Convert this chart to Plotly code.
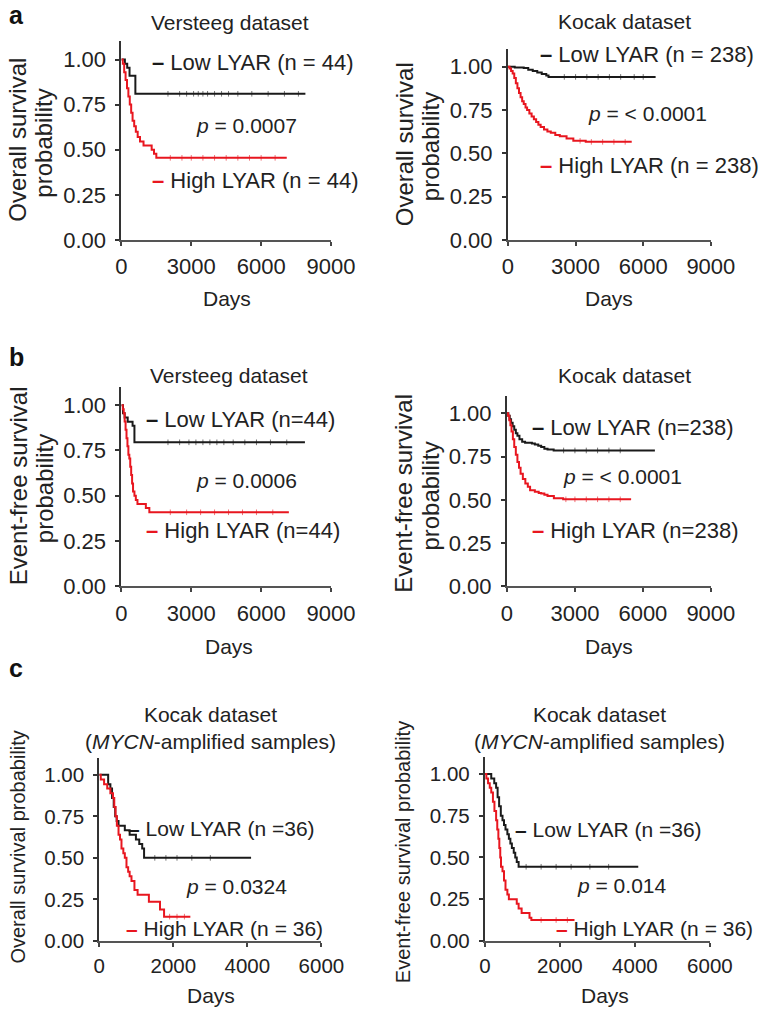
import plotly.graph_objects as go
import numpy as np

W, H = 781, 1022
FONT = "Arial, Liberation Sans, sans-serif"
RED = "#e8161f"
BLK = "#1a1a1a"

# ---------------- data (days, survival probability) ----------------
# a: Versteeg overall survival
a1_low_t = [0, 150, 250, 350, 600, 7900]
a1_low_s = [1.0, 0.977, 0.955, 0.91, 0.81, 0.81]
a1_high_t = [0, 60, 120, 180, 240, 300, 360, 420, 480, 550, 620, 700, 800, 950, 1100, 1300, 1400, 1500, 7100]
a1_high_s = [1.0, 0.977, 0.93, 0.886, 0.84, 0.795, 0.75, 0.705, 0.66, 0.63, 0.6, 0.57, 0.545, 0.523, 0.523, 0.5, 0.477, 0.455, 0.455]
# a: Kocak overall survival
a2_low_t = [0, 300, 700, 900, 1100, 1300, 1500, 1700, 1800, 6550]
a2_low_s = [1.0, 0.996, 0.992, 0.983, 0.975, 0.966, 0.958, 0.949, 0.941, 0.941]
a2_high_t = [0, 70, 140, 210, 280, 350, 420, 490, 560, 630, 700, 780, 850, 950, 1050, 1150, 1250, 1350, 1450, 1600, 1750, 1900, 2100, 2300, 2600, 2900, 3450, 5490]
a2_high_s = [1.0, 0.99, 0.975, 0.96, 0.935, 0.905, 0.875, 0.848, 0.823, 0.8, 0.785, 0.765, 0.75, 0.73, 0.713, 0.697, 0.68, 0.665, 0.652, 0.637, 0.626, 0.618, 0.606, 0.598, 0.585, 0.572, 0.566, 0.566]
# b: Versteeg event-free survival
b1_low_t = [0, 70, 140, 270, 480, 560, 7880]
b1_low_s = [1.0, 0.955, 0.932, 0.909, 0.886, 0.795, 0.795]
b1_high_t = [0, 60, 100, 140, 180, 220, 260, 300, 340, 380, 420, 460, 500, 560, 620, 690, 1050, 1200, 7190]
b1_high_s = [1.0, 0.977, 0.955, 0.91, 0.864, 0.818, 0.773, 0.727, 0.705, 0.66, 0.614, 0.568, 0.523, 0.5, 0.477, 0.455, 0.432, 0.409, 0.409]
# b: Kocak event-free survival
b2_low_t = [0, 60, 120, 180, 250, 320, 390, 460, 550, 670, 800, 950, 1100, 1230, 1380, 1510, 1650, 1790, 2060, 6530]
b2_low_s = [1.0, 0.985, 0.965, 0.945, 0.925, 0.905, 0.885, 0.87, 0.85, 0.835, 0.83, 0.83, 0.825, 0.82, 0.812, 0.805, 0.795, 0.79, 0.785, 0.785]
b2_high_t = [0, 50, 100, 150, 200, 260, 320, 390, 460, 530, 600, 700, 810, 920, 1020, 1230, 1400, 1510, 1650, 1790, 2070, 2480, 5480]
b2_high_s = [1.0, 0.985, 0.96, 0.93, 0.895, 0.85, 0.805, 0.76, 0.718, 0.685, 0.651, 0.62, 0.594, 0.575, 0.556, 0.547, 0.54, 0.537, 0.53, 0.522, 0.509, 0.503, 0.503]
# c: Kocak MYCN-amplified overall survival
c1_low_t = [0, 240, 300, 345, 390, 430, 470, 520, 690, 820, 990, 1080, 1160, 1210, 4100]
c1_low_s = [1.0, 0.944, 0.917, 0.861, 0.806, 0.75, 0.722, 0.694, 0.667, 0.639, 0.611, 0.583, 0.556, 0.5, 0.5]
c1_high_t = [0, 40, 130, 215, 300, 370, 405, 440, 475, 520, 560, 600, 650, 690, 735, 780, 820, 870, 950, 1035, 1340, 1640, 1750, 2460]
c1_high_s = [1.0, 0.972, 0.944, 0.917, 0.889, 0.861, 0.806, 0.75, 0.694, 0.639, 0.611, 0.556, 0.528, 0.5, 0.444, 0.417, 0.389, 0.361, 0.306, 0.278, 0.236, 0.189, 0.146, 0.146]
# c: Kocak MYCN-amplified event-free survival
c2_low_t = [0, 170, 250, 300, 340, 380, 425, 470, 510, 550, 600, 640, 680, 720, 770, 810, 850, 900, 4090]
c2_low_s = [1.0, 0.972, 0.944, 0.917, 0.861, 0.806, 0.75, 0.722, 0.694, 0.667, 0.639, 0.611, 0.583, 0.556, 0.528, 0.5, 0.472, 0.444, 0.444]
c2_high_t = [0, 40, 85, 130, 170, 215, 255, 300, 330, 360, 385, 410, 430, 470, 510, 550, 600, 640, 850, 900, 980, 1190, 1240, 2390]
c2_high_s = [1.0, 0.972, 0.944, 0.917, 0.889, 0.833, 0.778, 0.722, 0.667, 0.611, 0.556, 0.5, 0.444, 0.417, 0.361, 0.306, 0.278, 0.25, 0.222, 0.194, 0.167, 0.139, 0.125, 0.125]

# censor marks (days)
a1_low_c = [2000, 2500, 2800, 3100, 3300, 3500, 3700, 4000, 4300, 4600, 5000, 5600, 6300, 7000, 7600]
a1_high_c = [2100, 2600, 3000, 3500, 4000, 4500, 5000, 5500, 6000, 6600]
a2_low_c = [2500, 3000, 3500, 4000, 4500, 5000, 5600, 6000]
a2_high_c = [3200, 3700, 4200, 4700, 5200]
b1_low_c = [2000, 2500, 2900, 3200, 3500, 3800, 4100, 4400, 4800, 5300, 5800, 6400, 7100]
b1_high_c = [2100, 2800, 3400, 4000, 4600, 5200, 5800, 6500]
b2_low_c = [2500, 3000, 3500, 4000, 4500, 5000]
b2_high_c = [2600, 3000, 3500, 4000, 4500, 5000]
c1_low_c = [1500, 1800, 2100, 2500, 3000]
c1_high_c = [1900, 2100, 2300]
c2_low_c = [1100, 1500, 1900, 2300, 2800, 3300]
c2_high_c = [1500, 1900, 2200]

titles = ["Versteeg dataset", "Kocak dataset", "Versteeg dataset", "Kocak dataset",
          "Kocak dataset<br>(<i>MYCN</i>-amplified samples)", "Kocak dataset<br>(<i>MYCN</i>-amplified samples)"]
ylabel_lines = [["Overall survival", "probability"], ["Overall survival", "probability"],
                ["Event-free survival", "probability"], ["Event-free survival", "probability"],
                ["Overall survival probability"], ["Event-free survival probability"]]
low_labels = ["Low LYAR (n = 44)", "Low LYAR (n = 238)", "Low LYAR (n=44)", "Low LYAR (n=238)",
              "Low LYAR (n =36)", "Low LYAR (n =36)"]
high_labels = ["High LYAR (n = 44)", "High LYAR (n = 238)", "High LYAR (n=44)", "High LYAR (n=238)",
               "High LYAR (n = 36)", "High LYAR (n = 36)"]
pvals = ["0.0007", "< 0.0001", "0.0006", "< 0.0001", "0.0324", "0.014"]
xticks_ab = [0, 3000, 6000, 9000]
xticks_c = [0, 2000, 4000, 6000]
yticks = [0, 0.25, 0.5, 0.75, 1.0]
yticktext = ["0.00", "0.25", "0.50", "0.75", "1.00"]

curves = [
    (a1_low_t, a1_low_s, a1_low_c, a1_high_t, a1_high_s, a1_high_c),
    (a2_low_t, a2_low_s, a2_low_c, a2_high_t, a2_high_s, a2_high_c),
    (b1_low_t, b1_low_s, b1_low_c, b1_high_t, b1_high_s, b1_high_c),
    (b2_low_t, b2_low_s, b2_low_c, b2_high_t, b2_high_s, b2_high_c),
    (c1_low_t, c1_low_s, c1_low_c, c1_high_t, c1_high_s, c1_high_c),
    (c2_low_t, c2_low_s, c2_low_c, c2_high_t, c2_high_s, c2_high_c),
]

# ---------------- layout geometry (pixels) ----------------
# x0, x1, ytop(1.1), ybottom(0)
boxes = [(120, 338, 42, 243), (522, 733, 50, 243),
         (120, 338, 392, 594), (521, 733, 401, 594),
         (97, 328, 768, 953), (498, 732, 767, 953)]
title_pos = [(233, 23), (643, 22), (232, 380), (643, 380), (213, 737), (617, 737)]
days_pos = [(230, 302), (627, 302), (232, 655), (627, 655), (213, 1008), (623, 1008)]
ylab_x = [[12, 39], [414, 441], [13, 40], [414, 442], [13], [413]]
ylab_y = [[142, 145], [146, 149], [492, 495], [500, 503], [858], [863]]
ylab_size = [24, 24, 24, 24, 20, 20]
tick_size = [22, 22, 22, 22, 20.5, 20.5]
low_pos = [(150, 63), (553, 55), (143, 425), (545, 433), (125, 839), (527, 840)]
p_pos = [(195, 127), (603, 115), (195, 487), (577, 483), (185, 898), (592, 897)]
high_pos = [(150, 183), (553, 168), (143, 537), (545, 537), (123, 940), (570, 940)]
panel_letters = [("a", 1, 15), ("b", 1, 362), ("c", 1, 677)]


def px(x):
    return x / W


def py(y):
    return 1 - y / H


def step_at(t, s, x):
    idx = np.searchsorted(np.array(t), x, side="right") - 1
    return [s[i] for i in idx]


fig = go.Figure()
annotations = []
layout_axes = {}


def ann(text, pos, size=21, xanchor="left", **kw):
    annotations.append(dict(text=text, x=px(pos[0]), y=py(pos[1]), xref="paper", yref="paper",
                            xanchor=xanchor, yanchor="middle", showarrow=False,
                            font=dict(family=FONT, size=size, color="#222"), **kw))


for i, (box, cv) in enumerate(zip(boxes, curves)):
    n = i + 1
    xa = "x" if n == 1 else f"x{n}"
    ya = "y" if n == 1 else f"y{n}"
    lt, ls, lc, ht, hs, hc = cv
    for t, s, c, col in [(lt, ls, lc, BLK), (ht, hs, hc, RED)]:
        fig.add_trace(go.Scatter(x=t, y=s, mode="lines", line=dict(color=col, width=2, shape="hv"),
                                 xaxis=xa, yaxis=ya, showlegend=False, hoverinfo="skip"))
        fig.add_trace(go.Scatter(x=c, y=step_at(t, s, c), mode="markers",
                                 marker=dict(symbol="line-ns", size=4, line=dict(color=col, width=1)),
                                 opacity=0.6, xaxis=xa, yaxis=ya, showlegend=False, hoverinfo="skip"))
    x0, x1, yt, yb = box
    xticks = xticks_c if i >= 4 else xticks_ab
    kx = "xaxis" if n == 1 else f"xaxis{n}"
    ky = "yaxis" if n == 1 else f"yaxis{n}"
    layout_axes[kx] = dict(domain=[px(x0), px(x1)], range=[0, xticks[-1]], tickvals=xticks,
                           anchor=ya, showline=True, linecolor="#555", linewidth=2,
                           ticks="outside", ticklen=4, tickwidth=2, tickcolor="#444",
                           showgrid=False, zeroline=False, ticklabelstandoff=2,
                           tickfont=dict(family=FONT, size=tick_size[i], color="#222"))
    layout_axes[ky] = dict(domain=[py(yb), py(yt)], range=[0, 1.1], tickvals=yticks, ticktext=yticktext,
                           anchor=xa, showline=True, linecolor="#333", linewidth=2,
                           ticks="outside", ticklen=4, tickwidth=2, tickcolor="#333",
                           showgrid=False, zeroline=False, ticklabelstandoff=5,
                           tickfont=dict(family=FONT, size=tick_size[i], color="#222"))

    ann(titles[i], title_pos[i], xanchor="center")
    ann("Days", days_pos[i], xanchor="center")
    for line, lx, ly in zip(ylabel_lines[i], ylab_x[i], ylab_y[i]):
        ann(line, (lx, ly), size=ylab_size[i], xanchor="center", textangle=-90)
    ann(f"<span style='color:{BLK}'><b>–</b></span> " + low_labels[i], low_pos[i], size=22 if i < 4 else 21)
    ann(f"<span style='color:{RED}'><b>–</b></span> " + high_labels[i], high_pos[i], size=22 if i < 4 else 21)
    ann(f"<i>p</i> = {pvals[i]}", p_pos[i])

for letter, x, y in panel_letters:
    annotations.append(dict(text=f"<b>{letter}</b>", x=px(x), y=py(y), xref="paper", yref="paper",
                            xanchor="left", yanchor="middle", showarrow=False,
                            font=dict(family=FONT, size=25, color="#111")))

fig.update_layout(width=W, height=H, margin=dict(l=0, r=0, t=0, b=0),
                  paper_bgcolor="white", plot_bgcolor="white",
                  annotations=annotations, **layout_axes)
fig.write_html("out.html", config={"displayModeBar": False},
               post_script="document.body.style.margin='0';")
